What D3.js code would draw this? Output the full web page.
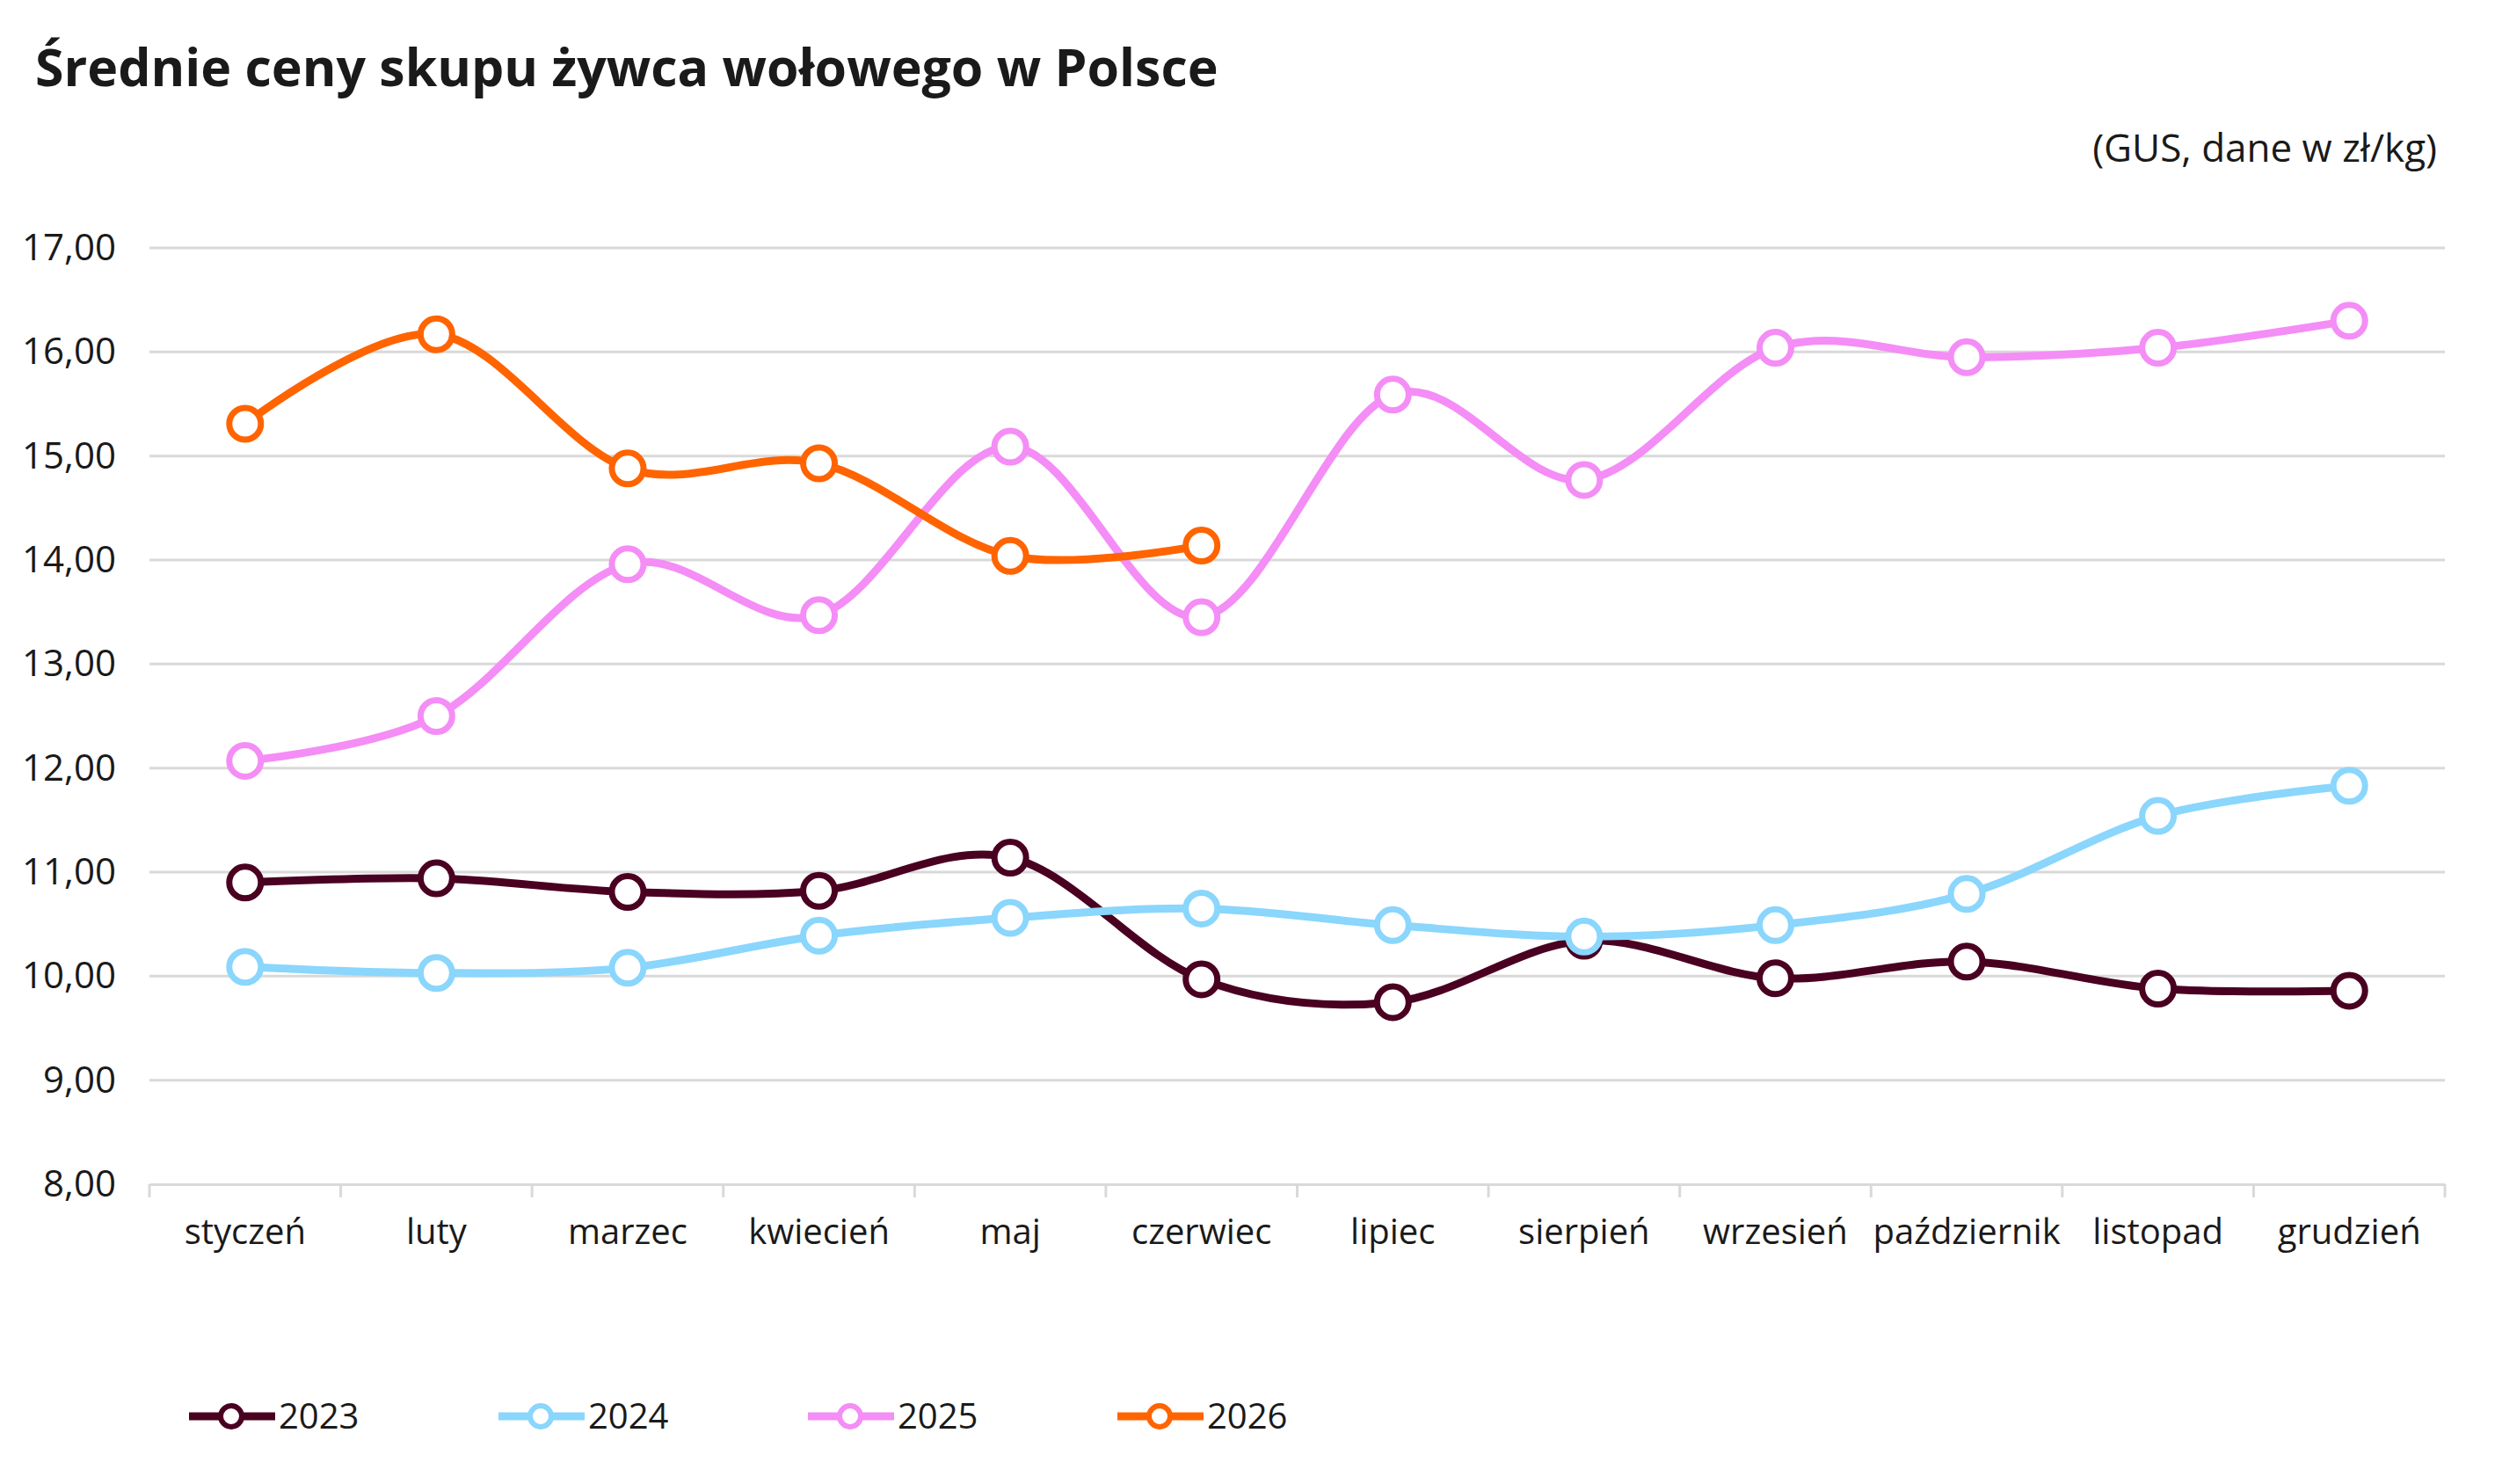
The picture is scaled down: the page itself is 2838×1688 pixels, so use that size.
<!DOCTYPE html>
<html>
<head>
<meta charset="utf-8">
<script src="https://cdn.jsdelivr.net/npm/d3@7"></script>
<style>
  body { margin: 0; background: #fff; }
  text { font-family: "Open Sans", sans-serif; fill: #1a1a1a; }
</style>
</head>
<body>
<div id="chart"></div>
<script>
// data (GUS, zł/kg)
const months = ["styczeń", "luty", "marzec", "kwiecień", "maj", "czerwiec",
  "lipiec", "sierpień", "wrzesień", "październik", "listopad", "grudzień"];
const years = ["2023", "2024", "2025", "2026"];
const v2023 = [10.90, 10.94, 10.81, 10.82, 11.14, 9.97, 9.75, 10.34, 9.98, 10.14, 9.88, 9.86];
const v2024 = [10.09, 10.03, 10.08, 10.39, 10.56, 10.65, 10.49, 10.38, 10.49, 10.79, 11.54, 11.83];
const v2025 = [12.07, 12.50, 13.96, 13.47, 15.09, 13.45, 15.59, 14.77, 16.04, 15.95, 16.04, 16.30];
const v2026 = [15.31, 16.17, 14.88, 14.93, 14.04, 14.14];
const yTicks = [8, 9, 10, 11, 12, 13, 14, 15, 16, 17];
const colors = ["#4a0021", "#8ad6fc", "#f48df6", "#ff6400"];

const series = [v2023, v2024, v2025, v2026];

displayWidth = 2838;
displayHeight = 1688;

let margin = { top: 282, right: 57, bottom: 341, left: 170 },
  width = displayWidth - margin.left - margin.right,
  height = displayHeight - margin.top - margin.bottom;

let svg = d3.select("#chart").append("svg")
  .attr("width", displayWidth).attr("height", displayHeight);

// title + subtitle
svg.append("text").attr("x", 40).attr("y", 98)
  .style("font-size", "59px").style("font-weight", "700")
  .text("Średnie ceny skupu żywca wołowego w Polsce");

svg.append("text").attr("x", 2772).attr("y", 184)
  .style("font-size", "44px").style("text-anchor", "end")
  .text("(GUS, dane w zł/kg)");

let g = svg.append("g").attr("transform", "translate(" + margin.left + "," + margin.top + ")");

let x = d3.scaleBand().domain(months).range([0, width]);
let y = d3.scaleLinear().domain([8, 17]).range([height, 0]);

// gridlines
g.selectAll(".grid").data(yTicks.slice(1)).enter().append("line")
  .attr("x1", 0).attr("x2", width)
  .attr("y1", d => y(d)).attr("y2", d => y(d))
  .attr("stroke", "#d9d9d9").attr("stroke-width", 3);

// y axis labels
let yAxis = g.append("g").call(d3.axisLeft(y).tickValues(yTicks)
  .tickFormat(d => d3.format(".2f")(d).replace(".", ",")).tickSize(0).tickPadding(38));
yAxis.select(".domain").remove();
yAxis.selectAll("text").style("font-size", "42px").attr("fill", "#1a1a1a")
  .style("font-family", "'Open Sans', sans-serif");

// x axis
let xAxis = g.append("g").attr("transform", "translate(0," + height + ")")
  .call(d3.axisBottom(x).tickSize(0).tickPadding(40));
xAxis.select(".domain").attr("stroke", "#d9d9d9").attr("stroke-width", 3);
xAxis.selectAll("text").style("font-size", "40px").attr("fill", "#1a1a1a")
  .style("font-family", "'Open Sans', sans-serif");

let bounds = months.map(m => x(m)).concat([width]);
g.selectAll(".xtick").data(bounds).enter().append("line")
  .attr("x1", d => d).attr("x2", d => d)
  .attr("y1", height).attr("y2", height + 15)
  .attr("stroke", "#d9d9d9").attr("stroke-width", 3);

// lines + markers, each series on top of the previous one
let line = d3.line()
  .x((d, i) => x(months[i]) + x.bandwidth() / 2)
  .y(d => y(d))
  .curve(d3.curveCardinal.tension(0));

series.forEach((vals, k) => {
  let sg = g.append("g");
  sg.append("path").datum(vals).attr("d", line)
    .attr("fill", "none").attr("stroke", colors[k]).attr("stroke-width", 9)
    .attr("stroke-linejoin", "round");
  sg.selectAll("circle").data(vals).enter().append("circle")
    .attr("cx", (d, i) => x(months[i]) + x.bandwidth() / 2)
    .attr("cy", d => y(d))
    .attr("r", 18)
    .attr("fill", "#fff").attr("stroke", colors[k]).attr("stroke-width", 7);
});

// legend
let legend = svg.append("g").attr("transform", "translate(215,1611)");
let item = legend.selectAll(".item").data(years).enter().append("g")
  .attr("transform", (d, i) => "translate(" + (i * 352) + ",0)");
item.append("line").attr("x1", 0).attr("x2", 98).attr("y1", 0).attr("y2", 0)
  .attr("stroke", (d, i) => colors[i]).attr("stroke-width", 9);
item.append("circle").attr("cx", 48).attr("cy", 0).attr("r", 12)
  .attr("fill", "#fff").attr("stroke", (d, i) => colors[i]).attr("stroke-width", 6);
item.append("text").attr("x", 102).attr("y", 14)
  .style("font-size", "40px").text(d => d);
</script>
</body>
</html>
